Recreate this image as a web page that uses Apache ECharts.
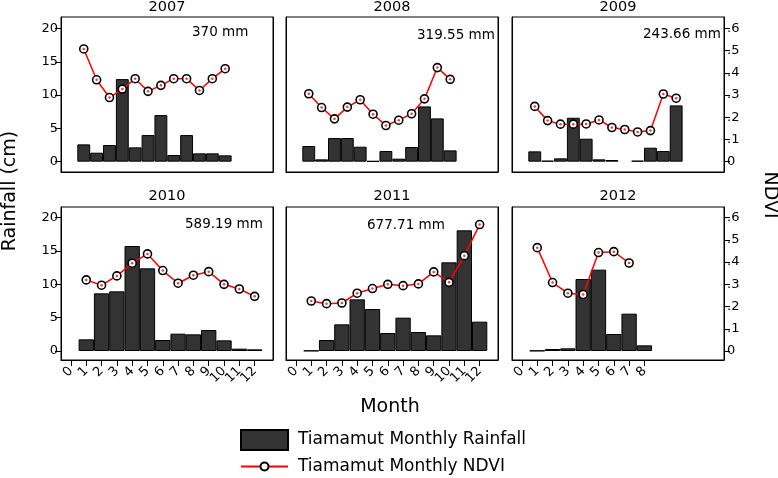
<!DOCTYPE html>
<html><head><meta charset="utf-8">
<script src="https://cdn.jsdelivr.net/npm/echarts@6/dist/echarts.min.js"></script>
<style>html,body{margin:0;padding:0;background:#fff}#c{width:778px;height:478px}</style>
</head><body><div id="c"></div>
<script>
// ---- data ----
const years = ['2007','2008','2009','2010','2011','2012'];
const totals = ['370 mm','319.55 mm','243.66 mm','589.19 mm','677.71 mm',''];
const months = [1,2,3,4,5,6,7,8,9,10,11,12];
const rain2007 = [2.6,1.35,2.5,12.4,2.15,4.0,7.0,1.0,4.0,1.25,1.25,0.95];
const ndvi2007 = [0.508,0.369,0.289,0.327,0.374,0.317,0.344,0.374,0.374,0.321,0.374,0.419];
const rain2008 = [2.35,0.35,3.55,3.55,2.25,0.1,1.6,0.45,2.2,8.3,6.5,1.7];
const ndvi2008 = [0.306,0.244,0.193,0.246,0.279,0.214,0.163,0.187,0.216,0.283,0.424,0.371];
const rain2009 = [1.55,0.15,0.5,6.6,3.45,0.35,0.25,null,0.15,2.1,1.6,8.45];
const ndvi2009 = [0.249,0.185,0.169,0.169,0.170,0.188,0.154,0.145,0.134,0.140,0.305,0.286];
const rain2010 = [1.75,8.65,8.95,15.75,12.4,1.65,2.6,2.5,3.15,1.6,0.35,0.25];
const ndvi2010 = [0.320,0.296,0.338,0.395,0.437,0.362,0.305,0.341,0.357,0.300,0.279,0.246];
const rain2011 = [0.05,1.65,4.0,7.75,6.3,2.7,5.0,2.85,2.35,13.3,18.1,4.4];
const ndvi2011 = [0.225,0.213,0.216,0.260,0.281,0.300,0.294,0.302,0.356,0.309,0.429,0.569];
const rain2012 = [0.05,0.3,0.4,10.8,12.2,2.55,5.6,0.85];
const ndvi2012 = [0.465,0.308,0.260,0.254,0.443,0.447,0.396];
const rainTicks = [0,5,10,15,20];
const ndviTicks = [0,0.1,0.2,0.3,0.4,0.5,0.6];
const ndviTickLabels = ['0','.1','.2','.3','.4','.5','.6'];
const monthTicks = [0,1,2,3,4,5,6,7,8,9,10,11,12];
const monthTicks2012 = [0,1,2,3,4,5,6,7,8];
const rainName = 'Tiamamut Monthly Rainfall';
const ndviName = 'Tiamamut Monthly NDVI';

// ---- layout ----
const FONT = '"DejaVu Sans", sans-serif';
const rains = [rain2007,rain2008,rain2009,rain2010,rain2011,rain2012];
const ndvis = [ndvi2007,ndvi2008,ndvi2009,ndvi2010,ndvi2011,ndvi2012];
const colL = [61,286,512], colW = 212;
const rowT = [17,207], rowH = [155,153];
const xRange = [[-0.77,15.72],[-0.65,13.2]];
const yRange = [[-1.55,21.73],[-1.35,21.6]];
const ndviScale = 0.6/20;
const annot = [[192,32],[417,35.5],[643,34],[185,224.5],[367,225],null];

const grid=[], xAxis=[], yAxis=[], series=[], graphic=[], extraX=[];
const edgeLine = {show:true, onZero:false, lineStyle:{color:'#000', width:1}};
const lblBase = {rotate:45, fontSize:13, color:'#000', margin:9, fontFamily:FONT, hideOverlap:false, showMaxLabel:true, showMinLabel:true};
for (let i=0;i<6;i++){
  const r = i<3?0:1, c = i%3;
  grid.push({left:colL[c], top:rowT[r], width:colW, height:rowH[r], show:true, borderColor:'#000', borderWidth:1, containLabel:false});
  const xt = i===5?monthTicks2012:monthTicks;
  const evenT = xt.filter((v,k)=>k%2===0), oddT = xt.filter((v,k)=>k%2===1);
  xAxis.push({gridIndex:i, type:'value', position:'bottom', min:xRange[r][0], max:xRange[r][1],
    axisLine:edgeLine, splitLine:{show:false},
    axisTick:{show:r===1, inside:false, customValues:xt, length:6, lineStyle:{color:'#000', width:1}},
    axisLabel:Object.assign({show:r===1, customValues:evenT}, lblBase)});
  if (r===1) extraX.push({gridIndex:i, type:'value', position:'bottom', offset:0, min:xRange[r][0], max:xRange[r][1],
    axisLine:{show:false, onZero:false}, splitLine:{show:false}, axisTick:{show:false},
    axisLabel:Object.assign({show:true, customValues:oddT}, lblBase)});
  yAxis.push({gridIndex:i, type:'value', position:'left', min:yRange[r][0], max:yRange[r][1],
    axisLine:edgeLine, splitLine:{show:false},
    axisTick:{show:c===0, inside:false, customValues:rainTicks, length:6, lineStyle:{color:'#000', width:1}},
    axisLabel:{show:c===0, customValues:rainTicks, fontSize:13, color:'#000', margin:3, fontFamily:FONT}});
  yAxis.push({gridIndex:i, type:'value', position:'right', min:yRange[r][0]*ndviScale, max:yRange[r][1]*ndviScale,
    axisLine:edgeLine, splitLine:{show:false},
    axisTick:{show:c===2, inside:false, customValues:ndviTicks, length:6, lineStyle:{color:'#000', width:1}},
    axisLabel:{show:c===2, customValues:ndviTicks, fontSize:13, color:'#000', margin:3, fontFamily:FONT,
      formatter:(v)=>{const k=ndviTicks.findIndex(t=>Math.abs(t-v)<1e-6); return k>=0?ndviTickLabels[k]:'';}}});
  const bw = colW/(xRange[r][1]-xRange[r][0]);
  const ndviPts = ndvis[i].map((v,k)=>[months[k], v]);
  series.push({type:'bar', name:rainName, xAxisIndex:i, yAxisIndex:2*i,
    data: rains[i].map((v,k)=>[months[k], v]), barWidth:bw,
    itemStyle:{color:'#333333', borderColor:'#000', borderWidth:1}, z:2});
  series.push({type:'line', name:ndviName, xAxisIndex:i, yAxisIndex:2*i+1,
    data: ndviPts, symbol:'circle', symbolSize:8,
    lineStyle:{color:'#ff0000', width:1.5}, itemStyle:{color:'#fff', borderColor:'#000', borderWidth:1.6}, z:3});
  series.push({type:'scatter', name:ndviName+' centre', xAxisIndex:i, yAxisIndex:2*i+1,
    data: ndviPts, symbol:'circle', symbolSize:2.5, itemStyle:{color:'#ff0000'}, z:4, silent:true});
  graphic.push({type:'text', x:colL[c]+colW/2, y:r===0?7.5:196,
    style:{text:years[i], font:'14.5px '+FONT, fill:'#000', textAlign:'center', textVerticalAlign:'middle', align:'center', verticalAlign:'middle'}});
  if (annot[i]) graphic.push({type:'text', x:annot[i][0], y:annot[i][1],
    style:{text:totals[i], font:'13.5px '+FONT, fill:'#000', textAlign:'left', textVerticalAlign:'middle', align:'left', verticalAlign:'middle'}});
}
xAxis.push(...extraX);
graphic.push({type:'text', x:10, y:191, rotation:Math.PI/2,
  style:{text:'Rainfall (cm)', font:'19px '+FONT, fill:'#000', textAlign:'center', textVerticalAlign:'middle', align:'center', verticalAlign:'middle'}});
graphic.push({type:'text', x:770, y:195, rotation:-Math.PI/2,
  style:{text:'NDVI', font:'19px '+FONT, fill:'#000', textAlign:'center', textVerticalAlign:'middle', align:'center', verticalAlign:'middle'}});
graphic.push({type:'text', x:390, y:407,
  style:{text:'Month', font:'19px '+FONT, fill:'#000', textAlign:'center', textVerticalAlign:'middle', align:'center', verticalAlign:'middle'}});

const chart = echarts.init(document.getElementById('c'), null, {renderer:'canvas'});
chart.setOption({
  animation:false,
  backgroundColor:'#fff',
  grid, xAxis, yAxis, series, graphic,
  legend:[
    {data:[{name:rainName, icon:'rect'}], left:240, top:429, padding:0, itemWidth:47, itemHeight:20, selectedMode:false,
      textStyle:{fontSize:17, color:'#000', fontFamily:FONT, padding:[0,0,0,5]}},
    {data:[ndviName], left:240, top:458, padding:0, itemWidth:47, itemHeight:10, selectedMode:false,
      textStyle:{fontSize:17, color:'#000', fontFamily:FONT, padding:[0,0,0,5]}}
  ]
});
</script></body></html>
